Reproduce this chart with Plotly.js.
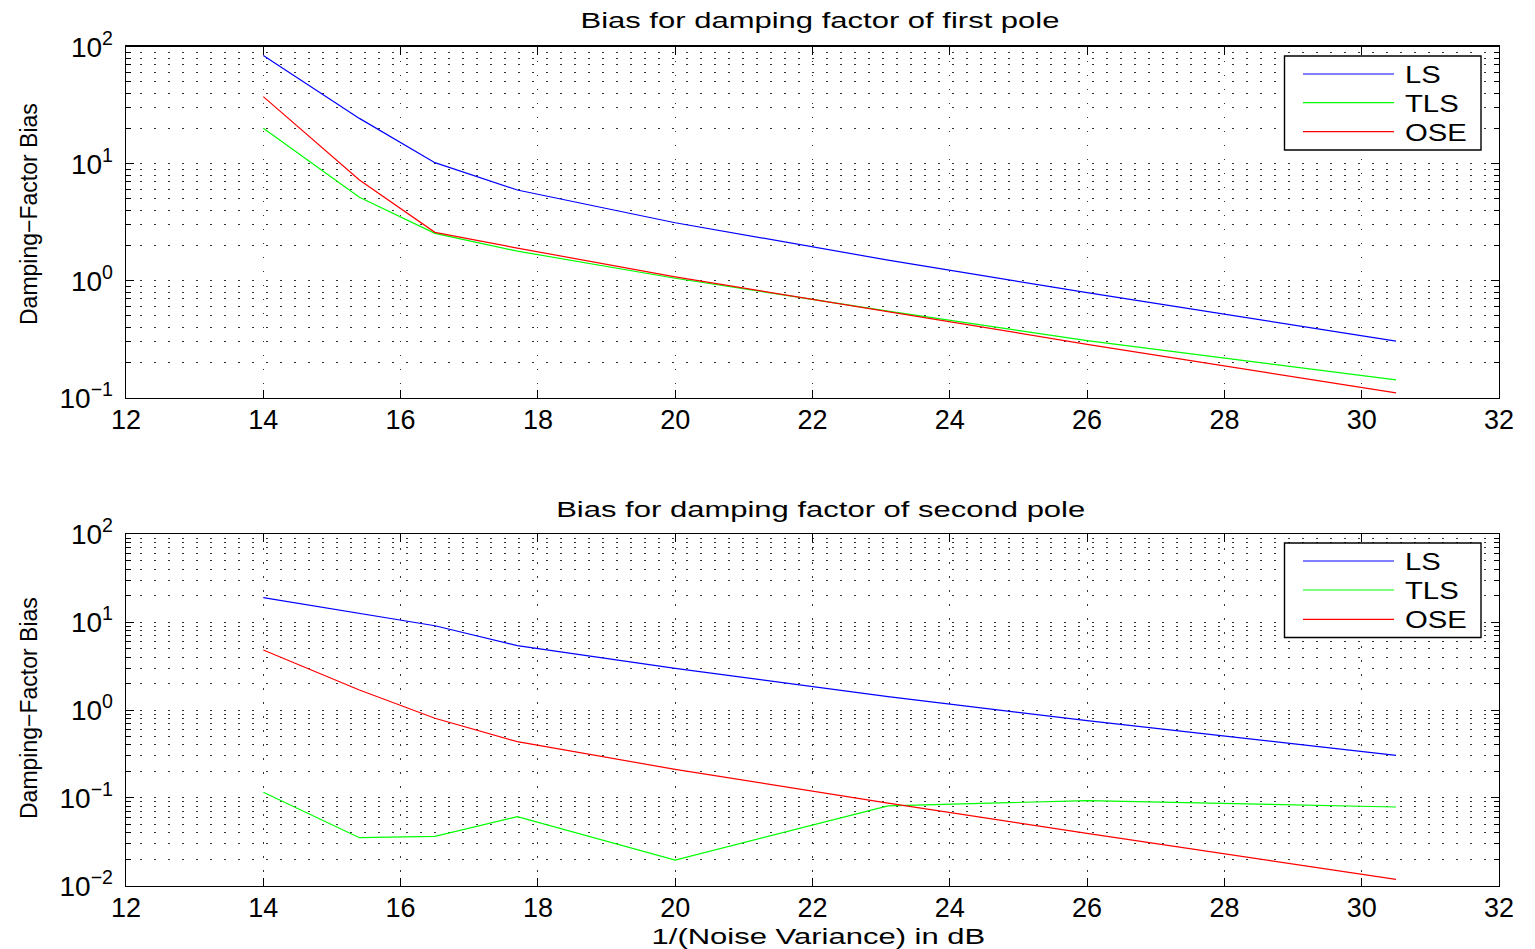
<!DOCTYPE html>
<html>
<head>
<meta charset="utf-8">
<script src="https://cdn.plot.ly/plotly-3.0.1.min.js"></script>
<style>
  html, body { margin: 0; padding: 0; background: #fff; }
  #chart { width: 1535px; height: 949px; }
  /* wide rendering of the panel headings and the x caption */
  g.annotation[data-index="0"] text,
  g.annotation[data-index="1"] text,
  g.annotation[data-index="2"] text {
    transform-box: fill-box; transform-origin: center; transform: scaleX(1.41);
  }
  /* legend labels widen to the right of their anchor */
  g.annotation[data-index="5"] text, g.annotation[data-index="6"] text,
  g.annotation[data-index="7"] text, g.annotation[data-index="8"] text,
  g.annotation[data-index="9"] text, g.annotation[data-index="10"] text {
    transform-box: fill-box; transform-origin: left center; transform: scaleX(1.22);
  }
</style>
</head>
<body>
<div id="chart"></div>
<script>
// 1/(noise variance) in dB for each simulation run
const snrDb = [14, 15.4, 16.5, 17.7, 20, 23.1, 26, 30.5];

// damping-factor bias, first pole
const lsFirst  = [84, 24.4, 10.2, 5.96, 3.13, 1.50, 0.79, 0.305];
const tlsFirst = [20.1, 5.16, 2.54, 1.79, 1.05, 0.55, 0.307, 0.142];
const oseFirst = [37.4, 7.26, 2.59, 1.90, 1.08, 0.54, 0.286, 0.110];

// damping-factor bias, second pole
const lsSecond  = [19.0, 12.6, 9.1, 5.4, 2.98, 1.42, 0.755, 0.305];
const tlsSecond = [0.116, 0.0352, 0.0365, 0.061, 0.0196, 0.081, 0.093, 0.0787];
const oseSecond = [4.82, 1.69, 0.805, 0.436, 0.211, 0.087, 0.0395, 0.0118];

const methodNames = ['LS', 'TLS', 'OSE'];
const methodColors = ['#0000ff', '#00ff00', '#ff0000'];

const panelTitles = ['Bias for damping factor of first pole', 'Bias for damping factor of second pole'];
const xCaption = '1/(Noise Variance) in dB';
const yCaption = 'Damping\u2212Factor Bias';

const xTicks = [12, 14, 16, 18, 20, 22, 24, 26, 28, 30, 32];
const yDecadesTop = [0.1, 1, 10, 100];
const yDecadesBottom = [0.01, 0.1, 1, 10, 100];
const decadeLabel = v => {
  const p = Math.round(Math.log10(v));
  return '10<sup>' + (p < 0 ? '\u2212' + (-p) : p) + '</sup>';
};

const W = 1535, H = 949;
const fx = px => px / W;
const fy = py => 1 - py / H;

const FONT = '"Liberation Sans", Arial, Helvetica, sans-serif';

function minorVals(decades) {
  const out = [];
  for (let i = 0; i < decades.length - 1; i++) {
    for (let k = 2; k <= 9; k++) out.push(k * decades[i]);
  }
  return out;
}

const gridDots = '1.5px,12.5px';
const gridCol = '#333';

function xAxis(anchor) {
  return {
    anchor: anchor,
    domain: [fx(126), fx(1499)],
    range: [12, 32],
    tickmode: 'array',
    tickvals: xTicks,
    ticktext: xTicks.map(String),
    ticks: 'inside', ticklen: 8, tickwidth: 1, tickcolor: '#000',
    ticklabelstandoff: -3,
    showline: true, mirror: 'ticks', linecolor: '#000', linewidth: 1.4,
    showgrid: true, gridcolor: gridCol, gridwidth: 1, griddash: gridDots,
    zeroline: false,
    tickfont: { family: FONT, size: 27, color: '#000' }
  };
}

function yAxis(anchor, decades, dom) {
  return {
    anchor: anchor,
    domain: dom,
    type: 'log',
    range: [Math.log10(decades[0]), Math.log10(decades[decades.length - 1])],
    tickmode: 'array',
    tickvals: decades,
    ticktext: decades.map(decadeLabel),
    ticks: 'inside', ticklen: 8, tickwidth: 1, tickcolor: '#000',
    ticklabelstandoff: 6,
    showline: true, mirror: 'ticks', linecolor: '#000', linewidth: 1.4,
    showgrid: true, gridcolor: gridCol, gridwidth: 1, griddash: gridDots,
    zeroline: false,
    minor: {
      tickmode: 'array', tickvals: minorVals(decades),
      ticks: 'inside', ticklen: 5, tickwidth: 1, tickcolor: '#000',
      showgrid: true, gridcolor: gridCol, gridwidth: 1, griddash: gridDots
    },
    tickfont: { family: FONT, size: 28, color: '#000' }
  };
}

const traces = [];
const firstSeries = [lsFirst, tlsFirst, oseFirst];
const secondSeries = [lsSecond, tlsSecond, oseSecond];
firstSeries.forEach((ys, i) => traces.push({
  type: 'scatter', mode: 'lines', x: snrDb, y: ys, name: methodNames[i],
  xaxis: 'x', yaxis: 'y', showlegend: false,
  line: { color: methodColors[i], width: 1.2 }
}));
secondSeries.forEach((ys, i) => traces.push({
  type: 'scatter', mode: 'lines', x: snrDb, y: ys, name: methodNames[i],
  xaxis: 'x2', yaxis: 'y2', showlegend: false,
  line: { color: methodColors[i], width: 1.2 }
}));

// annotations: headings, captions, legend labels (order is relied on by the stylesheet)
const annotations = [
  { text: panelTitles[0], x: fx(820), y: fy(21), size: 22 },
  { text: panelTitles[1], x: fx(820), y: fy(509), size: 22 },
  { text: xCaption, x: fx(818), y: fy(936), size: 22 },
  { text: yCaption, x: fx(29), y: fy(214), size: 23, angle: -90 },
  { text: yCaption, x: fx(29), y: fy(708), size: 23, angle: -90 }
].map(a => ({
  text: a.text, xref: 'paper', yref: 'paper', x: a.x, y: a.y,
  xanchor: 'center', yanchor: 'middle', showarrow: false,
  textangle: a.angle || 0,
  font: { family: FONT, size: a.size, color: '#000' }
}));

const shapes = [];
// legend boxes: top edge, bottom edge and the row of each entry
const legendBoxes = [
  { top: 56, bottom: 150, rows: [74, 102.7, 131.7] },
  { top: 543, bottom: 637.5, rows: [561, 590, 619.3] }
];
legendBoxes.forEach(box => {
  shapes.push({
    type: 'rect', xref: 'paper', yref: 'paper', layer: 'above',
    x0: fx(1284.5), x1: fx(1481), y0: fy(box.bottom), y1: fy(box.top),
    fillcolor: '#fff', line: { color: '#000', width: 1.4 }
  });
  box.rows.forEach((r, i) => {
    shapes.push({
      type: 'line', xref: 'paper', yref: 'paper', layer: 'above',
      x0: fx(1303), x1: fx(1394), y0: fy(r), y1: fy(r),
      line: { color: methodColors[i], width: 1.2 }
    });
  });
});
legendBoxes.forEach(box => {
  box.rows.forEach((r, i) => {
    annotations.push({
      text: methodNames[i], xref: 'paper', yref: 'paper',
      x: fx(1403), y: fy(r + 0.5), xanchor: 'left', yanchor: 'middle', showarrow: false,
      font: { family: FONT, size: 24, color: '#000' }
    });
  });
});

const layout = {
  width: W, height: H,
  margin: { l: 0, r: 0, t: 0, b: 0, pad: 0 },
  paper_bgcolor: '#fff', plot_bgcolor: '#fff',
  showlegend: false,
  font: { family: FONT, color: '#000' },
  xaxis: xAxis('y'),
  yaxis: yAxis('x', yDecadesTop, [fy(397.7), fy(46.7)]),
  xaxis2: xAxis('y2'),
  yaxis2: yAxis('x2', yDecadesBottom, [fy(885.7), fy(534.3)]),
  annotations: annotations,
  shapes: shapes
};

Plotly.newPlot('chart', traces, layout, { staticPlot: true, displayModeBar: false });
</script>
</body>
</html>
